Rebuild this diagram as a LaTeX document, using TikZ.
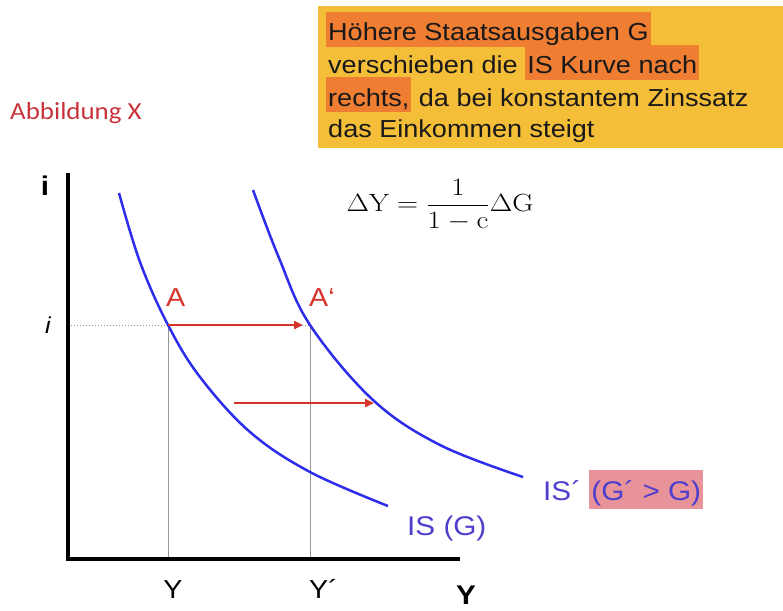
\documentclass[tikz,border=0pt]{standalone}
\usepackage[no-math]{fontspec}
\setmainfont{Liberation Sans}[FakeStretch=1.1]
\newfontfamily\calfont{Carlito}[FakeStretch=1.1]
\usetikzlibrary{arrows.meta}
\definecolor{boxyellow}{RGB}{245,190,56}
\definecolor{hlorange}{RGB}{239,125,50}
\definecolor{hlpink}{RGB}{232,146,154}
\definecolor{curveblue}{RGB}{45,45,235}
\definecolor{labelblue}{RGB}{78,62,205}
\definecolor{arrred}{RGB}{214,52,42}
\definecolor{figred}{RGB}{200,50,58}
\definecolor{guidegray}{RGB}{150,150,150}
\newcommand\hlbox[4]{{\setlength\fboxsep{0pt}\colorbox{#1}{\hspace{2pt}\rule[-#3]{0pt}{#4}#2\hspace{2pt}}}}
\tikzset{
  boxtext/.style={inner sep=0pt, anchor=base west, text=black!90, font=\fontsize{24.6}{30}\selectfont},
  axisline/.style={line width=4pt, black},
  guide/.style={guidegray, line width=0.9pt},
  dotguide/.style={guidegray, line width=1pt, dotted},
  iscurve/.style={curveblue, line width=2.5pt},
  shiftarrow/.style={arrred, line width=2.5pt, -{Triangle[length=9pt,width=8pt]}},
  pointlabel/.style={inner sep=0pt, text=arrred, font=\fontsize{26}{30}\selectfont},
  islabel/.style={inner sep=0pt, anchor=base west, text=labelblue, font=\fontsize{27}{30}\selectfont},
  ticklabel/.style={inner sep=0pt, font=\fontsize{26}{30}\selectfont},
  axislabel/.style={inner sep=0pt, font=\fontsize{27}{30}\selectfont\bfseries},
}
\begin{document}
\begin{tikzpicture}[x=1pt,y=-1pt]
\useasboundingbox (0,0) rectangle (783,610);
% text box
\fill[boxyellow] (318,6) rectangle (783,148);
\node[boxtext] (l1) at (326,41) {\hlbox{hlorange}{Höhere Staatsausgaben G}{6pt}{35pt}};
\node[boxtext] (l2) at (328,74) {verschieben die \hlbox{hlorange}{IS Kurve nach}{6pt}{35pt}};
\node[boxtext] (l3) at (326,106) {\hlbox{hlorange}{rechts,}{6pt}{35pt} da bei konstantem Zinssatz};
\node[boxtext] (l4) at (328,137) {das Einkommen steigt};
% figure title
\node[inner sep=0pt, anchor=west, text=figred, font=\calfont\fontsize{24.5}{28}\selectfont] (title) at (10,113) {Abbildung X};
% formula
\node[inner sep=0pt, font=\fontsize{25}{30}\selectfont] (formula) at (440,205) {\scalebox{1.17}[1]{$\displaystyle \Delta\mathrm{Y}=\frac{1}{1-\mathrm{c}}\Delta\mathrm{G}$}};
% coordinates
\coordinate (top) at (68,173);
\coordinate (origin) at (68,559);
\coordinate (xend) at (460,559);
\coordinate (iax) at (68,325);
\coordinate (A) at (168,325);
\coordinate (A2) at (310,325);
\coordinate (Atip) at (303,325);
\coordinate (Yb) at (168,557);
\coordinate (Y2b) at (310,557);
\coordinate (s1) at (234,403);
\coordinate (s2) at (374,403);
% guides
\draw[dotguide] (iax) -- (A2);
\draw[guide] (A) -- (Yb);
\draw[guide] (A2) -- (Y2b);
% curves
\draw[iscurve] plot[smooth, tension=0.6] coordinates {(119,193) (140,262) (168,325) (200,377) (250,432) (310,472) (388,506)};
\draw[iscurve] plot[smooth, tension=0.6] coordinates {(253,190) (279,258) (310,325) (373,400) (440,445) (523,477)};
% arrows
\draw[shiftarrow] (A) -- (Atip);
\draw[shiftarrow] (s1) -- (s2);
% axes
\draw[axisline] (top) -- (origin) -- (xend);
% labels
\node[axislabel, anchor=base] (ilab) at (45,195) {i};
\node[axislabel, anchor=base] (Ylab) at (466,604) {Y};
\node[inner sep=0pt, anchor=base, font=\fontsize{23}{26}\selectfont\itshape] (ilevel) at (48,333) {i};
\node[ticklabel, anchor=base] (ytick) at (173,598) {Y};
\node[ticklabel, anchor=base west] (y2tick) at (309,598) {Y´};
\node[pointlabel, anchor=base west] (Alab) at (166,306) {A};
\node[pointlabel, anchor=base west] (A2lab) at (309,306) {A‘};
\node[islabel] (is1) at (407,535) {IS (G)};
\node[islabel] (is2) at (543,500) {IS´ \hlbox{hlpink}{(G´ > G)}{9pt}{39pt}};
\end{tikzpicture}
\end{document}
